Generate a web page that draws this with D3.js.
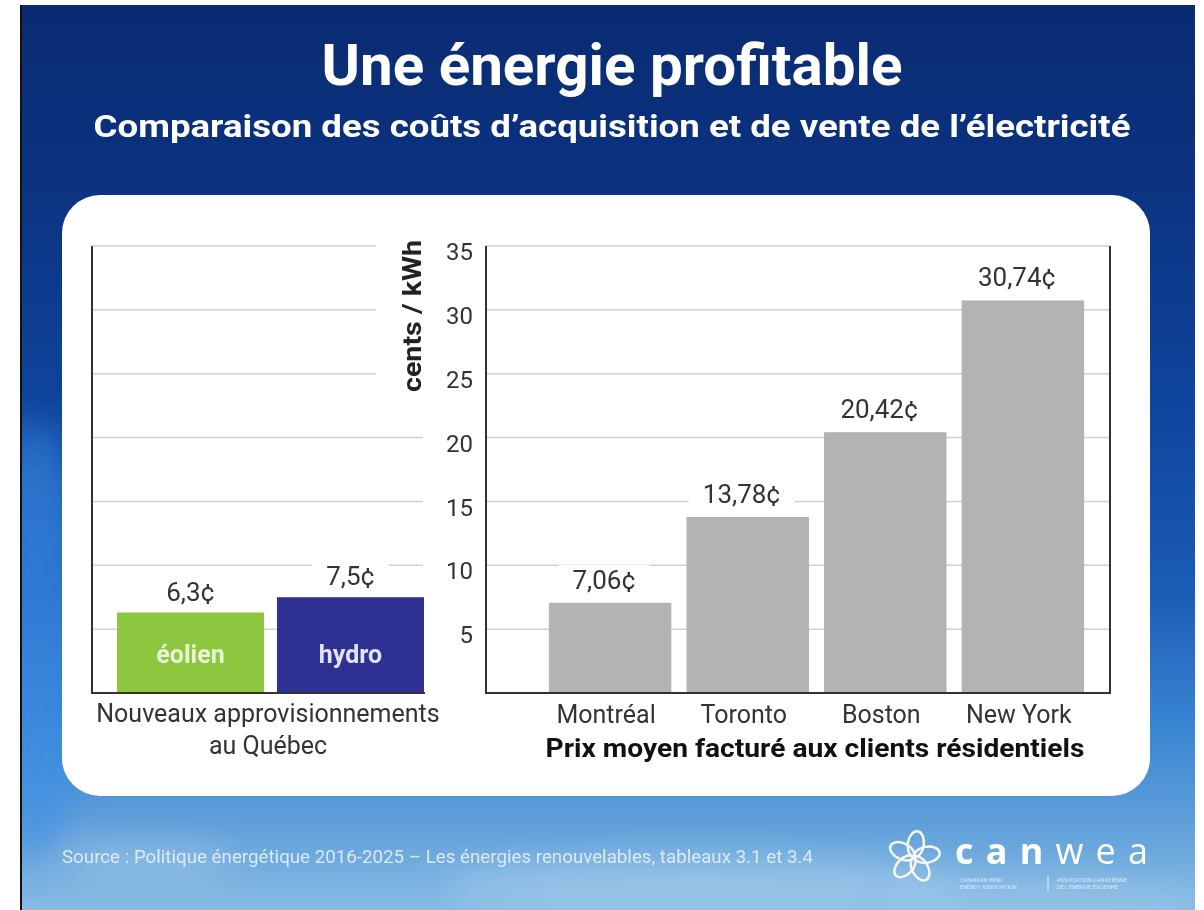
<!DOCTYPE html>
<html>
<head>
<meta charset="utf-8">
<script src="https://cdn.jsdelivr.net/npm/d3@7"></script>
<style>
  html, body { margin: 0; padding: 0; background: #fff; }
  svg { display: block; }
</style>
</head>
<body>
<div id="chart"></div>
<script>
// ---- Data ----
const quebecCats = ["éolien", "hydro"];
const quebecValues = [6.3, 7.5];
const quebecLabels = ["6,3¢", "7,5¢"];

const cityCats = ["Montréal", "Toronto", "Boston", "New York"];
const cityValues = [7.06, 13.78, 20.42, 30.74];
const cityLabels = ["7,06¢", "13,78¢", "20,42¢", "30,74¢"];

const yTicks = [5, 10, 15, 20, 25, 30, 35];

const title = "Une énergie profitable";
const subtitle = "Comparaison des coûts d’acquisition et de vente de l’électricité";
const yTitle = "cents / kWh";
const quebecTitle = ["Nouveaux approvisionnements", "au Québec"];
const cityTitle = "Prix moyen facturé aux clients résidentiels";
const sourceText = "Source : Politique énergétique 2016-2025 – Les énergies renouvelables, tableaux 3.1 et 3.4";

// ---- Setup ----
const W = 1204, H = 910;
const FONT = "Roboto, 'Liberation Sans', Arial, sans-serif";

const svg = d3.select("#chart").append("svg")
  .attr("width", W)
  .attr("height", H);

const defs = svg.append("defs");

const bg = defs.append("linearGradient")
  .attr("id", "sky")
  .attr("x1", 0).attr("y1", 0).attr("x2", 0).attr("y2", 1);
[[0, "#0a2b72"], [0.2, "#0b3381"], [0.45, "#0f459e"], [0.65, "#1b5cb7"],
 [0.8, "#3a86d3"], [0.9, "#5e9ed9"], [1, "#86bbe4"]].forEach(s => {
  bg.append("stop").attr("offset", s[0]).attr("stop-color", s[1]);
});

defs.append("filter").attr("id", "blur")
  .attr("x", "-50%").attr("y", "-50%").attr("width", "200%").attr("height", "200%")
  .append("feGaussianBlur").attr("stdDeviation", 18);

defs.append("clipPath").attr("id", "skyClip")
  .append("rect").attr("x", 20).attr("y", 5).attr("width", 1175).attr("height", H - 5);

// background
const sky = svg.append("g").attr("clip-path", "url(#skyClip)");
sky.append("rect").attr("x", 20).attr("y", 5).attr("width", 1175).attr("height", H - 5)
  .attr("fill", "url(#sky)");

// soft glow + clouds
const glow = sky.append("g").attr("filter", "url(#blur)");
glow.append("ellipse").attr("cx", 35).attr("cy", 640).attr("rx", 50).attr("ry", 220)
  .attr("fill", "#3b8ee6").attr("opacity", 0.6);
glow.append("ellipse").attr("cx", 700).attr("cy", 885).attr("rx", 260).attr("ry", 28)
  .attr("fill", "#ffffff").attr("opacity", 0.22);
glow.append("ellipse").attr("cx", 150).attr("cy", 860).attr("rx", 90).attr("ry", 18)
  .attr("fill", "#ffffff").attr("opacity", 0.2);
glow.append("ellipse").attr("cx", 1050).attr("cy", 900).attr("rx", 160).attr("ry", 22)
  .attr("fill", "#ffffff").attr("opacity", 0.15);

// black left edge
svg.append("rect").attr("x", 20).attr("y", 5).attr("width", 2).attr("height", H - 5)
  .attr("fill", "#111");

// titles
svg.append("text")
  .attr("x", 612).attr("y", 85)
  .attr("text-anchor", "middle")
  .attr("textLength", 581).attr("lengthAdjust", "spacingAndGlyphs")
  .style("font-family", FONT).style("font-weight", 700).style("font-size", "58px")
  .style("fill", "#ffffff")
  .text(title);

svg.append("text")
  .attr("x", 612).attr("y", 137)
  .attr("text-anchor", "middle")
  .attr("textLength", 1037).attr("lengthAdjust", "spacingAndGlyphs")
  .style("font-family", FONT).style("font-weight", 700).style("font-size", "31px")
  .style("fill", "#ffffff")
  .text(subtitle);

// white panel
svg.append("rect")
  .attr("x", 62).attr("y", 195).attr("width", 1088).attr("height", 601)
  .attr("rx", 38).attr("ry", 38)
  .attr("fill", "#ffffff");

// ---- Scales ----
const y = d3.scaleLinear().domain([0, 35]).range([693, 246]);

const xQ = d3.scaleBand().domain(quebecCats)
  .range([109, 432]).paddingInner(0.081).paddingOuter(0.05);

const xC = d3.scaleBand().domain(cityCats)
  .range([542, 1091]).paddingInner(0.11).paddingOuter(0.05);

const quebecColor = d3.scaleOrdinal().domain(quebecCats).range(["#8dc63f", "#2e3192"]);
const quebecTextColor = d3.scaleOrdinal().domain(quebecCats).range(["#eaf5d8", "#e2e3f7"]);

const leftX0 = 92, leftX1 = 423;
const rightX0 = 486, rightX1 = 1110;

// ---- Gridlines ----
const grid = svg.append("g");
grid.selectAll("line.gl").data(yTicks).enter().append("line")
  .attr("x1", leftX0).attr("x2", leftX1)
  .attr("y1", d => y(d)).attr("y2", d => y(d))
  .attr("stroke", "#cfcfcf").attr("stroke-width", 1.5);
grid.selectAll("line.gr").data(yTicks).enter().append("line")
  .attr("x1", rightX0).attr("x2", rightX1)
  .attr("y1", d => y(d)).attr("y2", d => y(d))
  .attr("stroke", "#cfcfcf").attr("stroke-width", 1.5);

// y title with white knockout box
const yt = svg.append("g").attr("transform", "translate(421,316) rotate(-90)");
const ytText = yt.append("text")
  .attr("text-anchor", "middle")
  .attr("textLength", 152).attr("lengthAdjust", "spacingAndGlyphs")
  .style("font-family", FONT).style("font-weight", 700).style("font-size", "25px")
  .style("fill", "#222")
  .text(yTitle);
const ytBox = ytText.node().getBBox();
yt.insert("rect", "text")
  .attr("x", ytBox.x - 4).attr("y", ytBox.y - 22)
  .attr("width", ytBox.width + 8).attr("height", ytBox.height + 26)
  .attr("fill", "#ffffff");

// y tick labels
const yAxis = svg.append("g")
  .attr("transform", "translate(473,6)")
  .call(d3.axisLeft(y).tickValues(yTicks).tickSize(0).tickPadding(0));
yAxis.select(".domain").remove();
yAxis.selectAll("text")
  .style("font-family", FONT).style("font-size", "24px").style("fill", "#333");

// ---- Value label backgrounds (knock out gridlines) ----
function labelWithBox(g, x, yPos, txt) {
  const t = g.append("text")
    .attr("x", x).attr("y", yPos)
    .attr("text-anchor", "middle")
    .style("font-family", FONT).style("font-size", "26px").style("fill", "#333")
    .text(txt);
  const b = t.node().getBBox();
  g.insert("rect", "text")
    .attr("x", b.x - 14).attr("y", b.y)
    .attr("width", b.width + 28).attr("height", b.height - 4)
    .attr("fill", "#ffffff");
}

// ---- Bars ----
svg.append("g").selectAll("rect")
  .data(quebecCats.map((c, i) => ({ c, v: quebecValues[i] })))
  .enter().append("rect")
  .attr("x", d => xQ(d.c))
  .attr("y", d => y(d.v))
  .attr("width", xQ.bandwidth())
  .attr("height", d => y(0) - y(d.v))
  .attr("fill", d => quebecColor(d.c));

svg.append("g").selectAll("rect")
  .data(cityCats.map((c, i) => ({ c, v: cityValues[i] })))
  .enter().append("rect")
  .attr("x", d => xC(d.c))
  .attr("y", d => y(d.v))
  .attr("width", xC.bandwidth())
  .attr("height", d => y(0) - y(d.v))
  .attr("fill", "#b3b3b3");

// bar names inside quebec bars
svg.append("g").selectAll("text")
  .data(quebecCats).enter().append("text")
  .attr("x", d => xQ(d) + xQ.bandwidth() / 2)
  .attr("y", y(0) - 30)
  .attr("text-anchor", "middle")
  .style("font-family", FONT).style("font-weight", 700).style("font-size", "25px")
  .style("fill", d => quebecTextColor(d))
  .text(d => d);

// value labels
const vl = svg.append("g");
quebecCats.forEach((c, i) => {
  labelWithBox(vl.append("g"), xQ(c) + xQ.bandwidth() / 2, y(quebecValues[i]) - 12, quebecLabels[i]);
});
cityCats.forEach((c, i) => {
  labelWithBox(vl.append("g"), xC(c) + xC.bandwidth() / 2 - 6, y(cityValues[i]) - 14, cityLabels[i]);
});

// ---- Axes lines ----
const ax = svg.append("g").attr("stroke", "#333").attr("stroke-width", 2).attr("fill", "none");
ax.append("line").attr("x1", leftX0).attr("x2", leftX0).attr("y1", y(35)).attr("y2", y(0) + 1);
ax.append("line").attr("x1", leftX0).attr("x2", 425).attr("y1", y(0)).attr("y2", y(0));
ax.append("line").attr("x1", rightX0).attr("x2", rightX0).attr("y1", y(35)).attr("y2", y(0) + 1);
ax.append("line").attr("x1", rightX1).attr("x2", rightX1).attr("y1", y(35)).attr("y2", y(0) + 1);
ax.append("line").attr("x1", rightX0).attr("x2", rightX1).attr("y1", y(0)).attr("y2", y(0));

// ---- Category labels ----
svg.append("g").selectAll("text")
  .data(cityCats).enter().append("text")
  .attr("x", d => xC(d) + xC.bandwidth() / 2 - 4)
  .attr("y", 723)
  .attr("text-anchor", "middle")
  .style("font-family", FONT).style("font-size", "25px").style("fill", "#333")
  .text(d => d);

svg.append("text")
  .attr("x", 815).attr("y", 757)
  .attr("text-anchor", "middle")
  .attr("textLength", 539).attr("lengthAdjust", "spacingAndGlyphs")
  .style("font-family", FONT).style("font-weight", 700).style("font-size", "25px")
  .style("fill", "#111")
  .text(cityTitle);

svg.append("g").selectAll("text")
  .data(quebecTitle).enter().append("text")
  .attr("x", 268)
  .attr("y", (d, i) => 722 + i * 32)
  .attr("text-anchor", "middle")
  .style("font-family", FONT).style("font-size", "25px").style("fill", "#333")
  .text(d => d);

// ---- Source ----
svg.append("text")
  .attr("x", 62).attr("y", 863)
  .attr("textLength", 751).attr("lengthAdjust", "spacingAndGlyphs")
  .style("font-family", FONT).style("font-size", "19px")
  .style("fill", "#e6f0fa").style("opacity", 0.9)
  .text(sourceText);

// ---- canwea logo ----
const petalAngles = [-10, 62, 134, 206, 278];
const fcx = 914, fcy = 857;
svg.append("g").selectAll("ellipse").data(petalAngles).enter().append("ellipse")
  .attr("cx", 13).attr("cy", 0).attr("rx", 13).attr("ry", 8)
  .attr("transform", d => `translate(${fcx},${fcy}) rotate(${d})`)
  .attr("fill", "none").attr("stroke", "#f4f8fd").attr("stroke-width", 2.5);

const logo = svg.append("text")
  .attr("x", 955).attr("y", 864)
  .attr("textLength", 193).attr("lengthAdjust", "spacing")
  .style("font-family", "'Open Sans', Roboto, sans-serif").style("font-size", "36px")
  .style("fill", "#ffffff");
logo.append("tspan").style("font-weight", 700).text("can");
logo.append("tspan").style("font-weight", 400).text("wea");

const small = svg.append("g")
  .style("font-family", FONT).style("font-size", "5.5px").style("fill", "#e8f1fb").style("opacity", 0.85);
small.append("text").attr("x", 960).attr("y", 882).text("CANADIAN WIND");
small.append("text").attr("x", 960).attr("y", 889).text("ENERGY ASSOCIATION");
small.append("text").attr("x", 1057).attr("y", 882).text("ASSOCIATION CANADIENNE");
small.append("text").attr("x", 1057).attr("y", 889).text("DE L’ÉNERGIE ÉOLIENNE");
svg.append("line").attr("x1", 1048).attr("x2", 1048).attr("y1", 876).attr("y2", 891)
  .attr("stroke", "#e8f1fb").attr("stroke-width", 1);
</script>
</body>
</html>
